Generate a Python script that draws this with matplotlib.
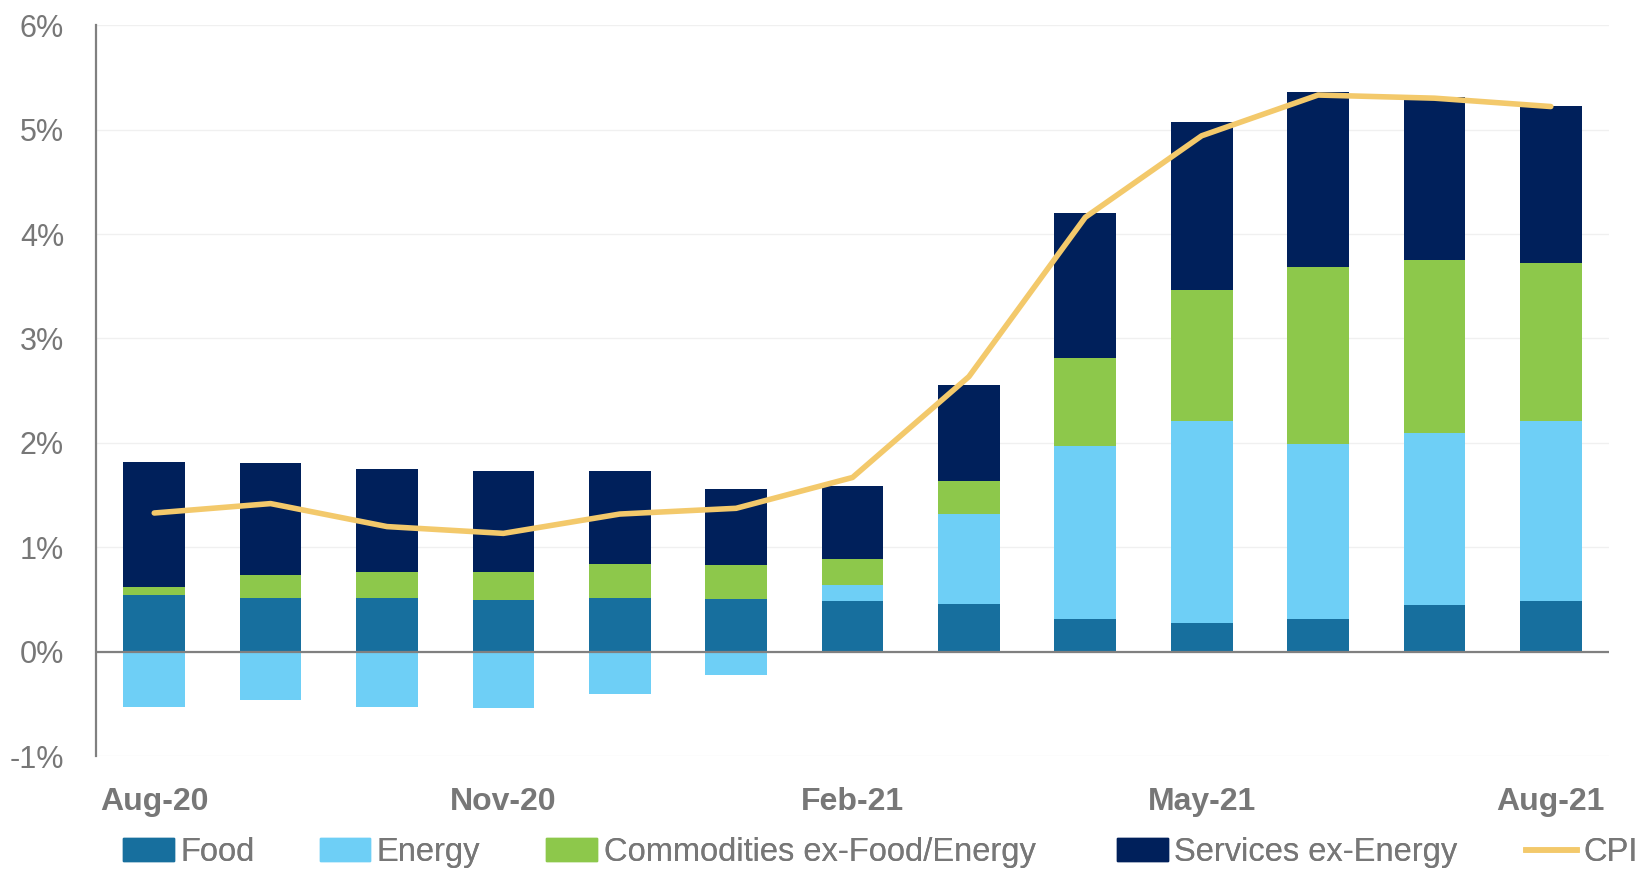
import numpy as np
import matplotlib
matplotlib.use("Agg")
import matplotlib.pyplot as plt
from matplotlib.patches import Patch
from matplotlib.lines import Line2D

plt.rcParams['font.family'] = ['Liberation Sans', 'DejaVu Sans']

months = ['Aug-20', 'Sep-20', 'Oct-20', 'Nov-20', 'Dec-20', 'Jan-21', 'Feb-21',
          'Mar-21', 'Apr-21', 'May-21', 'Jun-21', 'Jul-21', 'Aug-21']
tick_labels = ['Aug-20', 'Nov-20', 'Feb-21', 'May-21', 'Aug-21']

# contributions to CPI (percentage points)
food = [0.545, 0.52, 0.52, 0.50, 0.52, 0.51, 0.49, 0.46, 0.32, 0.28, 0.315, 0.45, 0.49]
energy = [-0.53, -0.46, -0.53, -0.54, -0.40, -0.22, 0.15, 0.86, 1.65, 1.93, 1.675, 1.65, 1.72]
commodities = [0.075, 0.22, 0.245, 0.265, 0.32, 0.32, 0.25, 0.32, 0.845, 1.25, 1.69, 1.65, 1.51]
services = [1.20, 1.07, 0.985, 0.97, 0.895, 0.73, 0.70, 0.915, 1.385, 1.61, 1.68, 1.56, 1.505]
cpi = [1.33, 1.42, 1.20, 1.135, 1.32, 1.375, 1.67, 2.635, 4.16, 4.94, 5.33, 5.30, 5.22]

series = [
    ('Food', food, '#176F9E'),
    ('Energy', energy, '#6ECFF6'),
    ('Commodities ex-Food/Energy', commodities, '#8DC84B'),
    ('Services ex-Energy', services, '#00205B'),
]
cpi_color = '#F3C96B'
grey = '#777777'

fig = plt.figure(figsize=(16.39, 8.72), dpi=100)
ax = fig.add_axes([0.0586, 0.1325, 0.9231, 0.8388])

x = np.arange(len(months))
pos_base = np.zeros(len(months))
neg_base = np.zeros(len(months))
for name, vals, col in series:
    vals = np.array(vals)
    bottom = np.where(vals >= 0, pos_base, neg_base)
    ax.bar(x, vals, width=0.53, bottom=bottom, color=col, zorder=2)
    pos_base = pos_base + np.where(vals >= 0, vals, 0)
    neg_base = neg_base + np.where(vals < 0, vals, 0)

ax.plot(x, cpi, color=cpi_color, lw=4, zorder=3, solid_capstyle='round')
ax.axhline(0, color='#808080', lw=1.6, zorder=4)

ax.set_xlim(-0.5, 12.5)
ax.set_ylim(-1, 6)
ax.set_yticks(range(-1, 7))
ax.set_yticklabels([f'{v}%' for v in range(-1, 7)])
ax.set_xticks([months.index(m) for m in tick_labels])
ax.set_xticklabels(tick_labels, fontweight='bold')

ax.yaxis.grid(True, color='#f0f0f0', lw=1)
ax.set_axisbelow(True)
for s in ['top', 'right', 'bottom']:
    ax.spines[s].set_visible(False)
ax.spines['left'].set_color('#808080')
ax.spines['left'].set_linewidth(1.6)

ax.tick_params(axis='y', length=0, pad=23, labelsize=22, labelcolor=grey)
ax.tick_params(axis='x', length=0, pad=22, labelsize=23, labelcolor=grey)

# legend entries placed one by one along the bottom
handles = [Patch(color=col, label=name) for name, vals, col in series]
handles.append(Line2D([0], [0], color=cpi_color, lw=4, label='CPI'))
legend_x = [0.075, 0.195, 0.3334, 0.6815, 0.9311]
for h, lx in zip(handles, legend_x):
    leg = fig.legend(handles=[h], loc='center left', bbox_to_anchor=(lx, 0.022),
                     frameon=False, borderpad=0, borderaxespad=0,
                     handlelength=1.55, handletextpad=0.2, fontsize=23.5)
    for t in leg.get_texts():
        t.set_color(grey)
    fig.add_artist(leg)

fig.savefig('out.png', dpi=100)
